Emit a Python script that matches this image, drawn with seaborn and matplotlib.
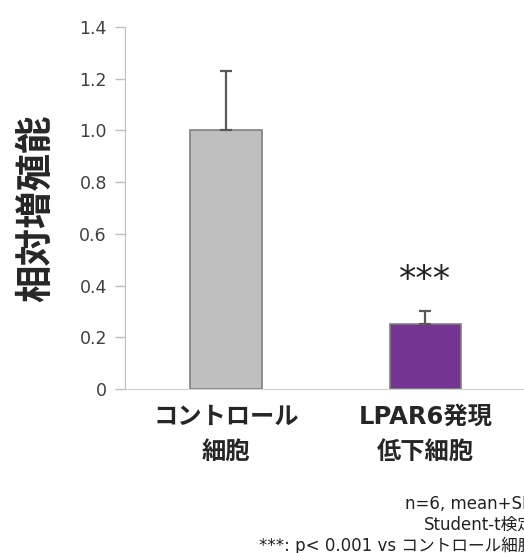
import matplotlib
matplotlib.use("Agg")
import matplotlib.pyplot as plt
import seaborn as sns
import pandas as pd
from matplotlib.ticker import FuncFormatter

# データ
groups = ["コントロール\n細胞", "LPAR6発現\n低下細胞"]
means = [1.0, 0.25]
sds = [0.23, 0.05]
bar_colors = ["#BFBFBF", "#7B24A1"]
y_ticks = [0, 0.2, 0.4, 0.6, 0.8, 1.0, 1.2, 1.4]
notes = "n=6, mean+SD\nStudent-t検定\n***: p< 0.001 vs コントロール細胞"

sns.set_style("white")
plt.rcParams['font.family'] = ['DejaVu Sans', 'Noto Sans CJK JP']

df = pd.DataFrame({"group": groups, "value": means})

fig = plt.figure(figsize=(5.24, 5.53), dpi=100)
ax = fig.add_axes([0.2385, 0.2966, 0.783, 0.6546])

sns.barplot(data=df, x="group", y="value", hue="group", palette=bar_colors,
            errorbar=None, width=0.36, edgecolor="#808080", linewidth=1.2,
            legend=False, ax=ax)

# 上側のみのエラーバー (mean+SD)
ax.errorbar(range(len(groups)), means, yerr=[[0] * len(sds), sds], fmt="none",
            ecolor="#595959", elinewidth=1.6, capsize=4, capthick=1.6)

ax.text(1, 0.42, "***", ha="center", va="center", fontsize=25, color="#222222")

ax.set_ylim(0, 1.4)
ax.set_xlim(-0.505, 1.55)
ax.set_yticks(y_ticks)
ax.yaxis.set_major_formatter(FuncFormatter(lambda v, p: "0" if v == 0 else f"{v:.1f}"))
ax.tick_params(axis="y", left=True, length=7, width=1, color="#BFBFBF",
               labelsize=12.5, labelcolor="#404040", pad=6)
ax.tick_params(axis="x", bottom=False, labelsize=17.5, pad=8)
for lbl in ax.get_xticklabels():
    lbl.set_fontweight("bold")
    lbl.set_linespacing(1.55)

ax.set_xlabel("")
ax.set_ylabel("相対増殖能", fontsize=27, fontweight="bold")
ax.yaxis.set_label_coords(-0.17, 0.5)

sns.despine(ax=ax, top=True, right=True)
ax.spines["left"].set_color("#BFBFBF")
ax.spines["bottom"].set_color("#D0D0D0")

fig.text(1.02, -0.004, notes, ha="right", va="bottom", multialignment="right",
         fontsize=12, color="#222222", linespacing=1.2)

fig.savefig("out.png", dpi=100)
